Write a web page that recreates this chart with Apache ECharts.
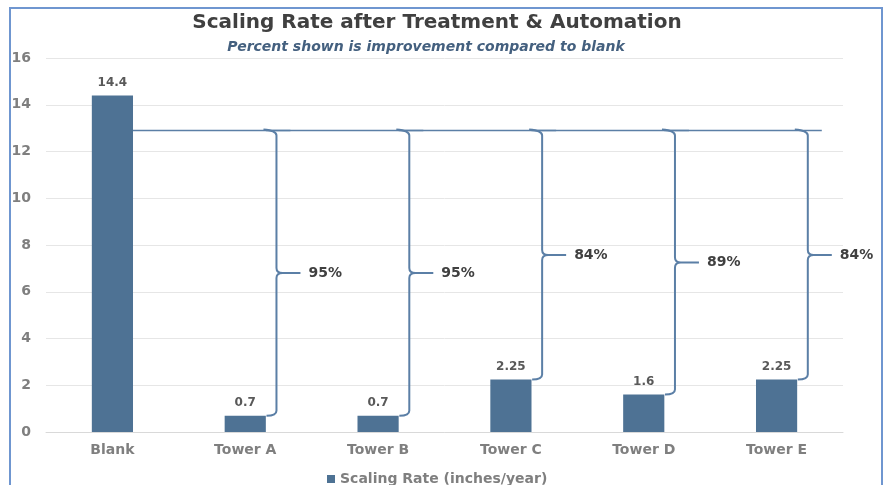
<!DOCTYPE html>
<html>
<head>
<meta charset="utf-8">
<script src="https://cdn.jsdelivr.net/npm/echarts@6/dist/echarts.min.js"></script>
<style>
  html, body { margin: 0; padding: 0; background: #fff; }
  #chart { width: 885px; height: 485px; }
</style>
</head>
<body>
<div id="chart"></div>
<script>
const categories = ["Blank", "Tower A", "Tower B", "Tower C", "Tower D", "Tower E"];
const scalingRate = [14.4, 0.7, 0.7, 2.25, 1.6, 2.25];
// brace top level (the reference line) and the improvement text per tower
const braceTop = 12.9;
const improvement = ["95%", "95%", "84%", "89%", "84%"];

const braceData = improvement.map((txt, k) => [k + 1, braceTop, scalingRate[k + 1], txt]);

const barColor = "#4e7294";
const braceColor = "#5b7fa6";
const fontFam = "'DejaVu Sans', Verdana, sans-serif";

function renderBrace(params, api) {
   const i = api.value(0);
   const top = api.coord([i, api.value(1)]);
   const bot = api.coord([i, api.value(2)]);
   const prev = api.coord([i - 1, api.value(1)]);
   const bw = api.size([1, 0])[0];
   const x = top[0] + bw * 0.235;
   const t = top[1];
   const b = bot[1];
   const mid = (t + b) / 2;

   const path =
      `M${x - 13} ${t - 1} Q${x} ${t} ${x} ${t + 5} ` +
      `L${x} ${mid - 5} Q${x} ${mid} ${x + 6} ${mid} L${x + 24} ${mid} ` +
      `M${x + 6} ${mid} Q${x} ${mid} ${x} ${mid + 5} ` +
      `L${x} ${b - 5} Q${x} ${b} ${x - 10} ${b}`;

   return {
      type: "group",
      children: [
         {
            type: "line",
            shape: { x1: prev[0] + bw * 0.155, y1: t, x2: x + 14, y2: t },
            style: { stroke: braceColor, lineWidth: 1.5 },
         },
         {
            type: "path",
            shape: { pathData: path },
            style: { stroke: braceColor, lineWidth: 2, fill: null },
         },
         {
            type: "text",
            style: {
               x: x + 32,
               y: mid,
               text: api.value(3),
               fill: "#404040",
               font: "bold 14px " + fontFam,
               verticalAlign: "middle",
               align: "left",
            },
         },
      ],
   };
}

const chart = echarts.init(document.getElementById("chart"));

chart.setOption({
   animation: false,
   textStyle: { fontFamily: fontFam },
   title: [
      {
         text: "Scaling Rate after Treatment & Automation",
         left: 432,
         textAlign: "center",
         top: 8,
         textStyle: { fontSize: 20, fontWeight: "bold", color: "#404040", fontFamily: fontFam },
      },
      {
         text: "Percent shown is improvement compared to blank",
         left: 421,
         textAlign: "center",
         top: 35,
         textStyle: { fontSize: 14, fontWeight: "bold", fontStyle: "italic", color: "#44607f", fontFamily: fontFam },
      },
   ],
   graphic: [
      {
         type: "rect",
         shape: { x: 10, y: 8, width: 872, height: 495 },
         style: { stroke: "#6f96d0", lineWidth: 2, fill: null },
         z: 100,
      },
   ],
   legend: {
      data: ["Scaling Rate (inches/year)"],
      bottom: -6,
      left: 322,
      itemWidth: 8,
      itemHeight: 8,
      itemGap: 5,
      icon: "rect",
      textStyle: { fontSize: 14, fontWeight: "bold", color: "#7f7f7f" },
   },
   grid: { left: 46, right: 42, top: 58, bottom: 53 },
   xAxis: {
      type: "category",
      data: categories,
      axisTick: { show: false },
      axisLine: { lineStyle: { color: "#d9d9d9" } },
      axisLabel: { fontSize: 14, fontWeight: "bold", color: "#7f7f7f", margin: 11 },
   },
   yAxis: {
      type: "value",
      min: 0,
      max: 16,
      interval: 2,
      axisLabel: { fontSize: 14, fontWeight: "bold", color: "#7f7f7f", margin: 15 },
      splitLine: { lineStyle: { color: "#e6e6e6" } },
   },
   series: [
      {
         name: "Scaling Rate (inches/year)",
         type: "bar",
         data: scalingRate,
         barWidth: "31%",
         itemStyle: { color: barColor },
         label: {
            show: true,
            position: "top",
            distance: 7,
            fontSize: 12,
            fontWeight: "bold",
            color: "#595959",
         },
      },
      {
         type: "custom",
         renderItem: renderBrace,
         data: braceData,
         encode: { x: 0, y: [1, 2] },
         z: 5,
         silent: true,
      },
   ],
});
</script>
</body>
</html>
